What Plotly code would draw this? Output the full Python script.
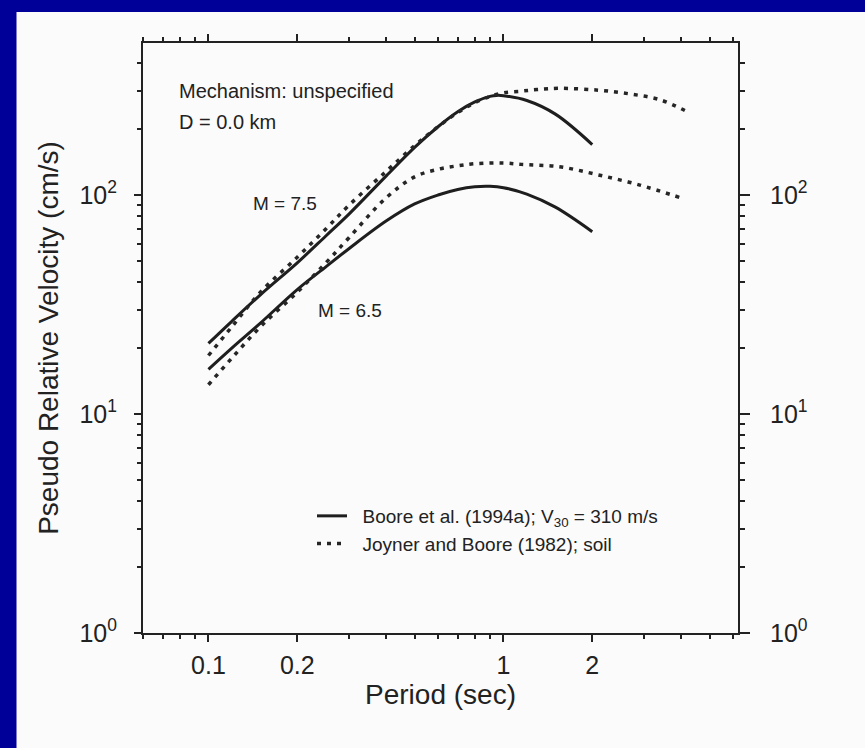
import numpy as np
import plotly.graph_objects as go

# ---------------- data ----------------
T_boore75 = [0.1, 0.12, 0.15, 0.2, 0.25, 0.3, 0.4, 0.5, 0.6, 0.7, 0.8, 0.9, 0.95, 1.0, 1.2, 1.5, 2.0]
V_boore75 = [21, 26.5, 35, 49, 65, 82, 122, 165, 205, 240, 266, 282, 285, 284, 270, 234, 170]

T_jb75 = [0.1, 0.12, 0.15, 0.2, 0.25, 0.3, 0.4, 0.5, 0.6, 0.7, 0.8, 0.9, 1.0, 1.15, 1.3, 1.55, 2.1, 2.7, 3.4, 4.2]
V_jb75 = [18.5, 25, 36, 52, 70, 90, 128, 168, 205, 238, 264, 282, 293, 298, 303, 307, 301, 289, 272, 240]

T_boore65 = [0.1, 0.12, 0.15, 0.2, 0.25, 0.3, 0.4, 0.5, 0.6, 0.7, 0.8, 0.9, 1.0, 1.2, 1.5, 2.0]
V_boore65 = [16, 20, 26, 37, 47, 57, 76, 91, 100, 106, 109, 109.5, 108, 101, 88, 68]

T_jb65 = [0.1, 0.12, 0.15, 0.2, 0.25, 0.3, 0.4, 0.5, 0.6, 0.7, 0.8, 1.0, 1.15, 1.55, 2.1, 2.9, 4.0]
V_jb65 = [13.6, 18, 25, 36, 49, 64, 97, 121, 131, 136, 139, 140, 138, 134.5, 123.5, 111, 97]

x_major = [0.1, 0.2, 1, 2]
x_major_text = ["0.1", "0.2", "1", "2"]
x_minor = [0.06, 0.07, 0.08, 0.09, 0.3, 0.4, 0.5, 0.6, 0.7, 0.8, 0.9, 3, 4, 5, 6]
y_major = [1, 10, 100]
y_major_text = ["10<sup>0</sup>", "10<sup>1</sup>", "10<sup>2</sup>"]
y_minor = [2, 3, 4, 5, 6, 7, 8, 9, 20, 30, 40, 50, 60, 70, 80, 90, 200, 300, 400]

legend_boore = "\u00a0\u00a0Boore et al. (1994a); V<sub>30</sub> = 310 m/s"
legend_jb = "\u00a0\u00a0Joyner and Boore (1982); soil"

# ---------------- layout geometry (pixels) ----------------
W, H = 865, 748
L, R, TOP, BOT = 143, 738, 43, 633
pw, ph = R - L, BOT - TOP


def px(x):
    return (x - L) / pw


def py(y):
    return (BOT - y) / ph


FONT = "Liberation Sans, Arial, Helvetica, sans-serif"
INK = "#222222"
BLUE = "#000099"
PAPER = "#fbfbfb"

fig = go.Figure()

solid = dict(color="#1e1e1e", width=3)
dotted = dict(color="#262626", width=3.5, dash="4px,6px")

fig.add_trace(go.Scatter(x=T_boore75, y=V_boore75, mode="lines", line=solid,
                         line_shape="spline", name=legend_boore, legendrank=1))
fig.add_trace(go.Scatter(x=T_jb75, y=V_jb75, mode="lines", line=dotted,
                         line_shape="spline", name=legend_jb, legendrank=2))
fig.add_trace(go.Scatter(x=T_boore65, y=V_boore65, mode="lines", line=solid,
                         line_shape="spline", showlegend=False))
fig.add_trace(go.Scatter(x=T_jb65, y=V_jb65, mode="lines", line=dotted,
                         line_shape="spline", showlegend=False))
# invisible carrier trace so the right-hand axis is drawn
fig.add_trace(go.Scatter(x=T_boore75, y=V_boore75, mode="lines", yaxis="y2",
                         opacity=0, line=dict(width=0), showlegend=False,
                         hoverinfo="skip"))

xr = [np.log10(0.06), np.log10(0.06) + pw / 295.0]
yr = [0, ph / 219.0]

fig.update_layout(
    width=W, height=H,
    margin=dict(l=L, r=W - R, t=TOP, b=H - BOT, pad=0),
    paper_bgcolor=PAPER, plot_bgcolor=PAPER,
    font=dict(family=FONT, color=INK),
    showlegend=True,
    legend=dict(x=px(312), y=py(497), xanchor="left", yanchor="top",
                bgcolor="rgba(0,0,0,0)", borderwidth=0,
                font=dict(size=19, family=FONT, color=INK),
                tracegroupgap=0, itemwidth=30),
    xaxis=dict(type="log", range=xr, showgrid=False, zeroline=False,
               showline=True, linecolor=INK, linewidth=2, mirror="ticks",
               ticks="outside", ticklen=7, tickwidth=1.5, tickcolor=INK,
               tickmode="array", tickvals=x_major, ticktext=x_major_text,
               tickfont=dict(size=25, family=FONT, color=INK),
               ticklabelstandoff=2,
               minor=dict(tickmode="array", tickvals=x_minor, ticks="outside",
                          ticklen=4, tickwidth=1.5, tickcolor=INK),
               title=dict(text="Period (sec)", font=dict(size=28, family=FONT, color=INK),
                          standoff=6)),
    yaxis=dict(type="log", range=yr, showgrid=False, zeroline=False,
               showline=True, linecolor=INK, linewidth=2,
               ticks="outside", ticklen=7, tickwidth=1.5, tickcolor=INK,
               tickmode="array", tickvals=y_major, ticktext=y_major_text,
               tickfont=dict(size=25, family=FONT, color=INK),
               ticklabelstandoff=12,
               minor=dict(tickmode="array", tickvals=y_minor, ticks="outside",
                          ticklen=4, tickwidth=1.5, tickcolor=INK),
               title=dict(text="Pseudo Relative Velocity (cm/s)",
                          font=dict(size=28, family=FONT, color=INK), standoff=13)),
    yaxis2=dict(type="log", range=yr, overlaying="y", side="right", matches="y",
                showgrid=False, zeroline=False,
                showline=True, linecolor=INK, linewidth=2,
                ticks="outside", ticklen=10, tickwidth=1.5, tickcolor=INK,
                tickmode="array", tickvals=y_major, ticktext=y_major_text,
                tickfont=dict(size=25, family=FONT, color=INK),
                ticklabelstandoff=15,
                minor=dict(tickmode="array", tickvals=y_minor, ticks="outside",
                           ticklen=5, tickwidth=1.5, tickcolor=INK)),
)

# blue frame strips (left and top)
fig.add_shape(type="rect", xref="paper", yref="paper", layer="below",
              x0=px(-5), x1=px(16.5), y0=py(H + 5), y1=py(-5),
              fillcolor=BLUE, line=dict(width=0))
fig.add_shape(type="rect", xref="paper", yref="paper", layer="below",
              x0=px(-5), x1=px(W + 5), y0=py(12), y1=py(-5),
              fillcolor=BLUE, line=dict(width=0))

ann_font = dict(size=20, family=FONT, color=INK)
fig.add_annotation(text="Mechanism: unspecified", xref="paper", yref="paper",
                   x=px(177), y=py(91), xanchor="left", yanchor="middle",
                   showarrow=False, font=ann_font)
fig.add_annotation(text="D = 0.0 km", xref="paper", yref="paper",
                   x=px(177), y=py(122), xanchor="left", yanchor="middle",
                   showarrow=False, font=ann_font)
fig.add_annotation(text="M = 7.5", xref="paper", yref="paper",
                   x=px(251), y=py(203), xanchor="left", yanchor="middle",
                   showarrow=False, font=dict(size=19, family=FONT, color=INK))
fig.add_annotation(text="M = 6.5", xref="paper", yref="paper",
                   x=px(316), y=py(310), xanchor="left", yanchor="middle",
                   showarrow=False, font=dict(size=19, family=FONT, color=INK))

fig.write_html("out.html")
